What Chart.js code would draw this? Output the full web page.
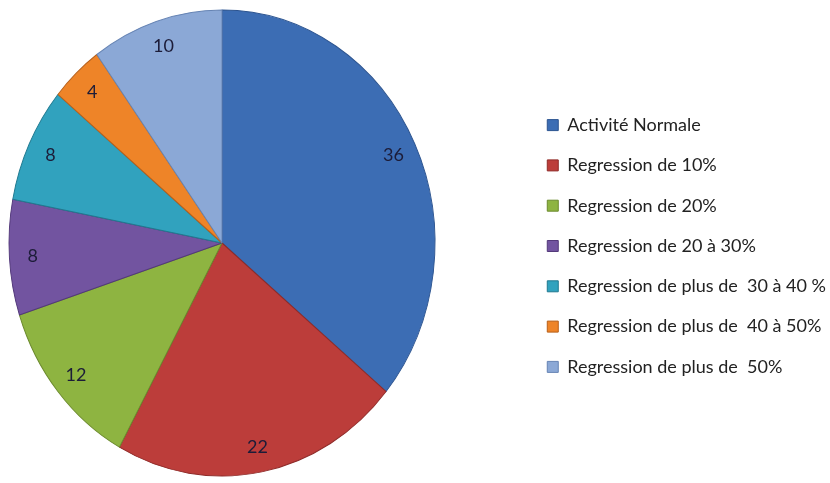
<!DOCTYPE html>
<html>
<head>
<meta charset="utf-8">
<script src="https://cdn.jsdelivr.net/npm/chart.js@4.4.0/dist/chart.umd.min.js"></script>
<style>
  html, body { margin: 0; padding: 0; background: #fff; overflow: hidden; }
  #wrap { width: 830px; height: 483px; }
</style>
</head>
<body>
<div id="wrap"><canvas id="pieChart" width="830" height="483"></canvas></div>
<script>
// donnees du graphique
var categories = [
    'Activité Normale',
    'Regression de 10%',
    'Regression de 20%',
    'Regression de 20 à 30%',
    'Regression de plus de  30 à 40 %',
    'Regression de plus de  40 à 50%',
    'Regression de plus de  50%'
];
var values = [36, 22, 12, 8, 8, 4, 10];
var sliceColors = ['#3c6db4', '#bc3d3a', '#8eb441', '#7254a0', '#31a2be', '#ee8428', '#8ba8d6'];
var edgeColors = ['#2c5490', '#8f2b29', '#6b8a2d', '#53397a', '#217a90', '#b8601a', '#6684b4'];

// le camembert est un peu ovale dans l'original
var PIE_CX = 222, PIE_CY = 243, PIE_RX = 213, PIE_RY = 233;

var ovalPlugin = {
    id: 'oval',
    beforeDatasetsDraw: function(chart) {
        var arc = chart.getDatasetMeta(0).data[0];
        var ctx = chart.ctx;
        ctx.save();
        ctx.translate(PIE_CX, PIE_CY);
        ctx.scale(PIE_RX / arc.outerRadius, PIE_RY / arc.outerRadius);
        ctx.translate(-arc.x, -arc.y);
    },
    afterDatasetsDraw: function(chart) {
        var ctx = chart.ctx;
        ctx.restore();
        // etiquettes des valeurs
        var meta = chart.getDatasetMeta(0);
        ctx.save();
        ctx.font = '18px Lato';
        ctx.fillStyle = '#1c1c38';
        ctx.textAlign = 'center';
        ctx.textBaseline = 'middle';
        meta.data.forEach(function(arc, i) {
            var mid = (arc.startAngle + arc.endAngle) / 2;
            var x = PIE_CX + Math.cos(mid) * PIE_RX * 0.89;
            var y = PIE_CY + Math.sin(mid) * PIE_RY * 0.89;
            ctx.fillText(String(values[i]), x, y);
        });
        ctx.restore();
    }
};

var ctx = document.getElementById('pieChart').getContext('2d');
var pieChart = new Chart(ctx, {
    type: 'pie',
    data: {
        labels: categories,
        datasets: [{
            data: values,
            backgroundColor: sliceColors,
            borderColor: edgeColors,
            borderWidth: 1
        }]
    },
    options: {
        responsive: false,
        animation: false,
        layout: {
            padding: { top: 13, bottom: 4, left: 0, right: -6 }
        },
        plugins: {
            legend: {
                position: 'right',
                align: 'center',
                labels: {
                    boxWidth: 11,
                    boxHeight: 11,
                    padding: 22.3,
                    color: '#222',
                    font: { family: 'Lato', size: 18 }
                }
            },
            tooltip: { enabled: false }
        }
    },
    plugins: [ovalPlugin]
});
</script>
</body>
</html>
